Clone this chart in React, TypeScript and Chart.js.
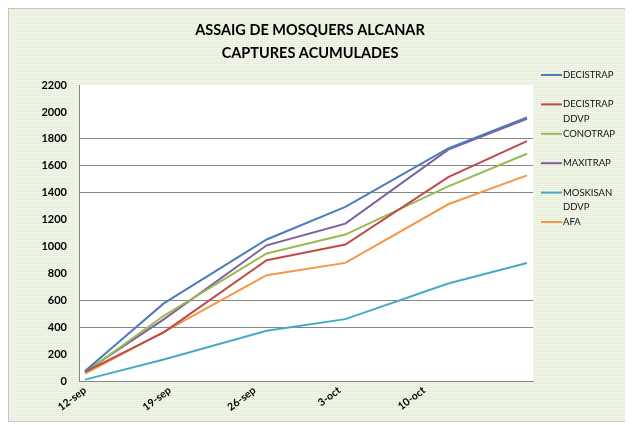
import React, { useEffect, useRef } from 'react';
import { Chart, registerables } from 'chart.js';

Chart.register(...registerables);

// Sampling days (offset in days from 12-sep)
const dayOffsets = [0, 6.5, 15, 21.5, 30, 36.5];
const tickDays = [0, 7, 14, 21, 28];
const tickLabels = ['12-sep', '19-sep', '26-sep', '3-oct', '10-oct'];

const seriesNames = ['DECISTRAP', 'DECISTRAP DDVP', 'CONOTRAP', 'MAXITRAP', 'MOSKISAN DDVP', 'AFA'];
const decistrap = [75, 577, 1052, 1294, 1730, 1960];
const decistrapDdvp = [68, 362, 898, 1015, 1516, 1783];
const conotrap = [62, 485, 948, 1089, 1447, 1690];
const maxitrap = [70, 458, 1009, 1170, 1720, 1950];
const moskisanDdvp = [10, 160, 373, 460, 725, 878];
const afa = [55, 365, 787, 878, 1314, 1529];
const seriesValues = [decistrap, decistrapDdvp, conotrap, maxitrap, moskisanDdvp, afa];

const seriesColors = ['#4A7EBB', '#BE4B48', '#98B954', '#7D60A0', '#46AAC5', '#F79646'];
const visibleGridValues = [400, 600, 1400, 1600, 1800];

const FONT = 'Lato, "Open Sans", sans-serif';

const plotBackground = {
  id: 'plotBackground',
  beforeDraw(chart: any) {
    const { ctx, chartArea } = chart;
    ctx.save();
    ctx.fillStyle = '#ffffff';
    ctx.fillRect(chartArea.left, chartArea.top, chartArea.right - chartArea.left, chartArea.bottom - chartArea.top);
    ctx.restore();
  },
};

const sideLegend = {
  id: 'sideLegend',
  afterDraw(chart: any) {
    const { ctx } = chart;
    const x0 = 532;
    const lineLen = 21;
    const startY = 66;
    const slot = 29.4;
    const lineH = 14.5;
    const maxW = 58;
    ctx.save();
    ctx.font = `9.5px ${FONT}`;
    ctx.textBaseline = 'middle';
    ctx.textAlign = 'left';
    chart.data.datasets.forEach((ds: any, i: number) => {
      const y = startY + i * slot;
      ctx.strokeStyle = ds.borderColor;
      ctx.lineWidth = 2;
      ctx.beginPath();
      ctx.moveTo(x0, y);
      ctx.lineTo(x0 + lineLen, y);
      ctx.stroke();
      const words = String(ds.label).split(' ');
      const lines: string[] = [];
      let cur = '';
      words.forEach((w) => {
        const test = cur ? cur + ' ' + w : w;
        if (cur && ctx.measureText(test).width > maxW) {
          lines.push(cur);
          cur = w;
        } else {
          cur = test;
        }
      });
      if (cur) lines.push(cur);
      ctx.fillStyle = '#111111';
      lines.forEach((t, j) => ctx.fillText(t, x0 + lineLen + 1, y + j * lineH));
    });
    ctx.restore();
  },
};

export default function App() {
  const canvasRef = useRef<HTMLCanvasElement>(null);

  useEffect(() => {
    if (!canvasRef.current) return;
    const chart = new Chart(canvasRef.current, {
      type: 'line',
      data: {
        datasets: seriesNames.map((name, i) => ({
          label: name,
          data: seriesValues[i].map((v, k) => ({ x: dayOffsets[k], y: v })),
          borderColor: seriesColors[i],
          backgroundColor: seriesColors[i],
          borderWidth: 2,
          pointRadius: 0,
          tension: 0,
          fill: false,
        })),
      },
      options: {
        animation: false,
        responsive: false,
        devicePixelRatio: 1,
        layout: { padding: { left: 0, right: 16, top: 0, bottom: 0 } },
        plugins: {
          legend: { display: false },
          tooltip: { enabled: false },
          title: {
            display: true,
            text: ['ASSAIG DE MOSQUERS ALCANAR', 'CAPTURES ACUMULADES'],
            color: '#000000',
            font: { family: FONT, size: 14.5, weight: 'bold', lineHeight: 1.59 },
            padding: { top: 10, bottom: 20 },
          },
        },
        scales: {
          x: {
            type: 'linear',
            min: -0.5,
            max: 37,
            afterBuildTicks: (s: any) => {
              s.ticks = tickDays.map((v) => ({ value: v }));
            },
            afterFit: (s: any) => {
              s.height = 40;
            },
            ticks: {
              autoSkip: false,
              minRotation: 37,
              maxRotation: 37,
              padding: 3,
              color: '#000000',
              font: { family: FONT, size: 10.5, weight: 'bold' },
              callback: (v: any) => {
                const idx = tickDays.indexOf(Number(v));
                return idx >= 0 ? tickLabels[idx] : '';
              },
            },
            grid: { display: true, color: 'rgba(0,0,0,0)', drawTicks: false },
            border: { display: true, color: '#868686', width: 1 },
          },
          y: {
            min: 0,
            max: 2200,
            afterFit: (s: any) => {
              s.width = 70;
            },
            ticks: {
              stepSize: 200,
              padding: 12,
              color: '#000000',
              font: { family: FONT, size: 11, weight: 'bold' },
              callback: (v: any) => String(v),
            },
            grid: {
              drawTicks: false,
              color: (c: any) => (c.tick && visibleGridValues.includes(c.tick.value) ? '#868686' : 'rgba(0,0,0,0)'),
            },
            border: { display: true, color: '#868686', width: 1 },
          },
          legendSpace: {
            type: 'linear',
            position: 'right',
            display: true,
            afterFit: (s: any) => {
              s.width = 78;
            },
            ticks: { display: false },
            grid: { display: false, drawTicks: false },
            border: { display: false },
          },
        },
      },
      plugins: [plotBackground, sideLegend],
    } as any);
    return () => chart.destroy();
  }, []);

  return (
    <div
      style={{
        width: 618,
        height: 412,
        border: '1px solid #c4c4c4',
        backgroundColor: '#e3ebd3',
        backgroundImage:
          'repeating-linear-gradient(0deg, rgba(255,255,255,0.45) 0px, rgba(255,255,255,0.45) 1px, rgba(255,255,255,0) 1px, rgba(255,255,255,0) 2px), repeating-linear-gradient(90deg, rgba(255,255,255,0.3) 0px, rgba(255,255,255,0.3) 1px, rgba(255,255,255,0) 1px, rgba(255,255,255,0) 2px)',
      }}
    >
      <canvas ref={canvasRef} width={618} height={412} style={{ display: 'block' }} />
    </div>
  );
}
